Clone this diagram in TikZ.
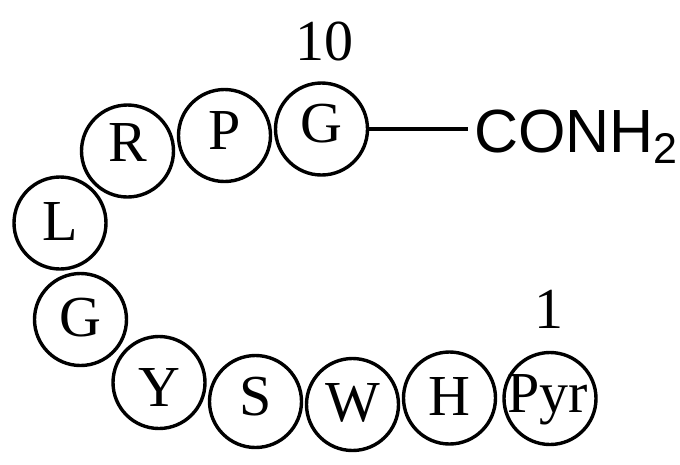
\documentclass[tikz,border=0pt]{standalone}
\usepackage{fontspec}
\setmainfont{Liberation Serif}
\newfontfamily\arialfont{Liberation Sans}
\begin{document}
\begin{tikzpicture}[x=1pt,y=-1pt,
  res/.style={draw, line width=3.4pt, circle, minimum size=92pt, inner sep=0pt,
    font=\fontsize{58}{58}\selectfont, text height=38pt, text depth=#1},
  res/.default=6pt,
  resdown/.style={draw, line width=3.4pt, circle, minimum size=92pt, inner sep=0pt,
    font=\fontsize{58}{58}\selectfont, text height=#1, text depth=0pt},
  num/.style={font=\fontsize{58}{58}\selectfont, inner sep=0pt, text height=40pt, text depth=0pt}]
\useasboundingbox (0,0) rectangle (680,464);
\node[res=11pt] (g10) at (321.5,129) {G};
\node[res=11pt] (p9) at (224.5,135.5) {P};
\node[res=18pt] (r8) at (127.5,151) {R};
\node[res=3pt] (l7) at (60,223) {L};
\node[res=5pt] (g6) at (80.5,319.5) {G};
\node[resdown=47pt] (y5) at (159,382.5) {Y};
\node[res=11pt] (s4) at (255.5,401.5) {S};
\node[res=4pt] (w3) at (352.5,404.5) {W};
\node[res=4pt] (h2) at (449.5,398) {H};
\node[res=11pt] (pyr1) at (550,398.5) {\hspace{-4pt}Pyr\hspace{-4pt}};
\node[num] (n10) at (324,40) {10};
\node[num] (n1) at (548.5,308) {1};
\node[anchor=base west, inner sep=0pt, font=\arialfont\fontsize{61}{61}\selectfont] (con) at (474,152)
  {CONH\raisebox{-11pt}{\fontsize{43}{43}\selectfont 2}};
\draw[line width=3.2pt] (g10.east) -- ([xshift=-6pt]g10.east -| con.west);
\end{tikzpicture}
\end{document}
